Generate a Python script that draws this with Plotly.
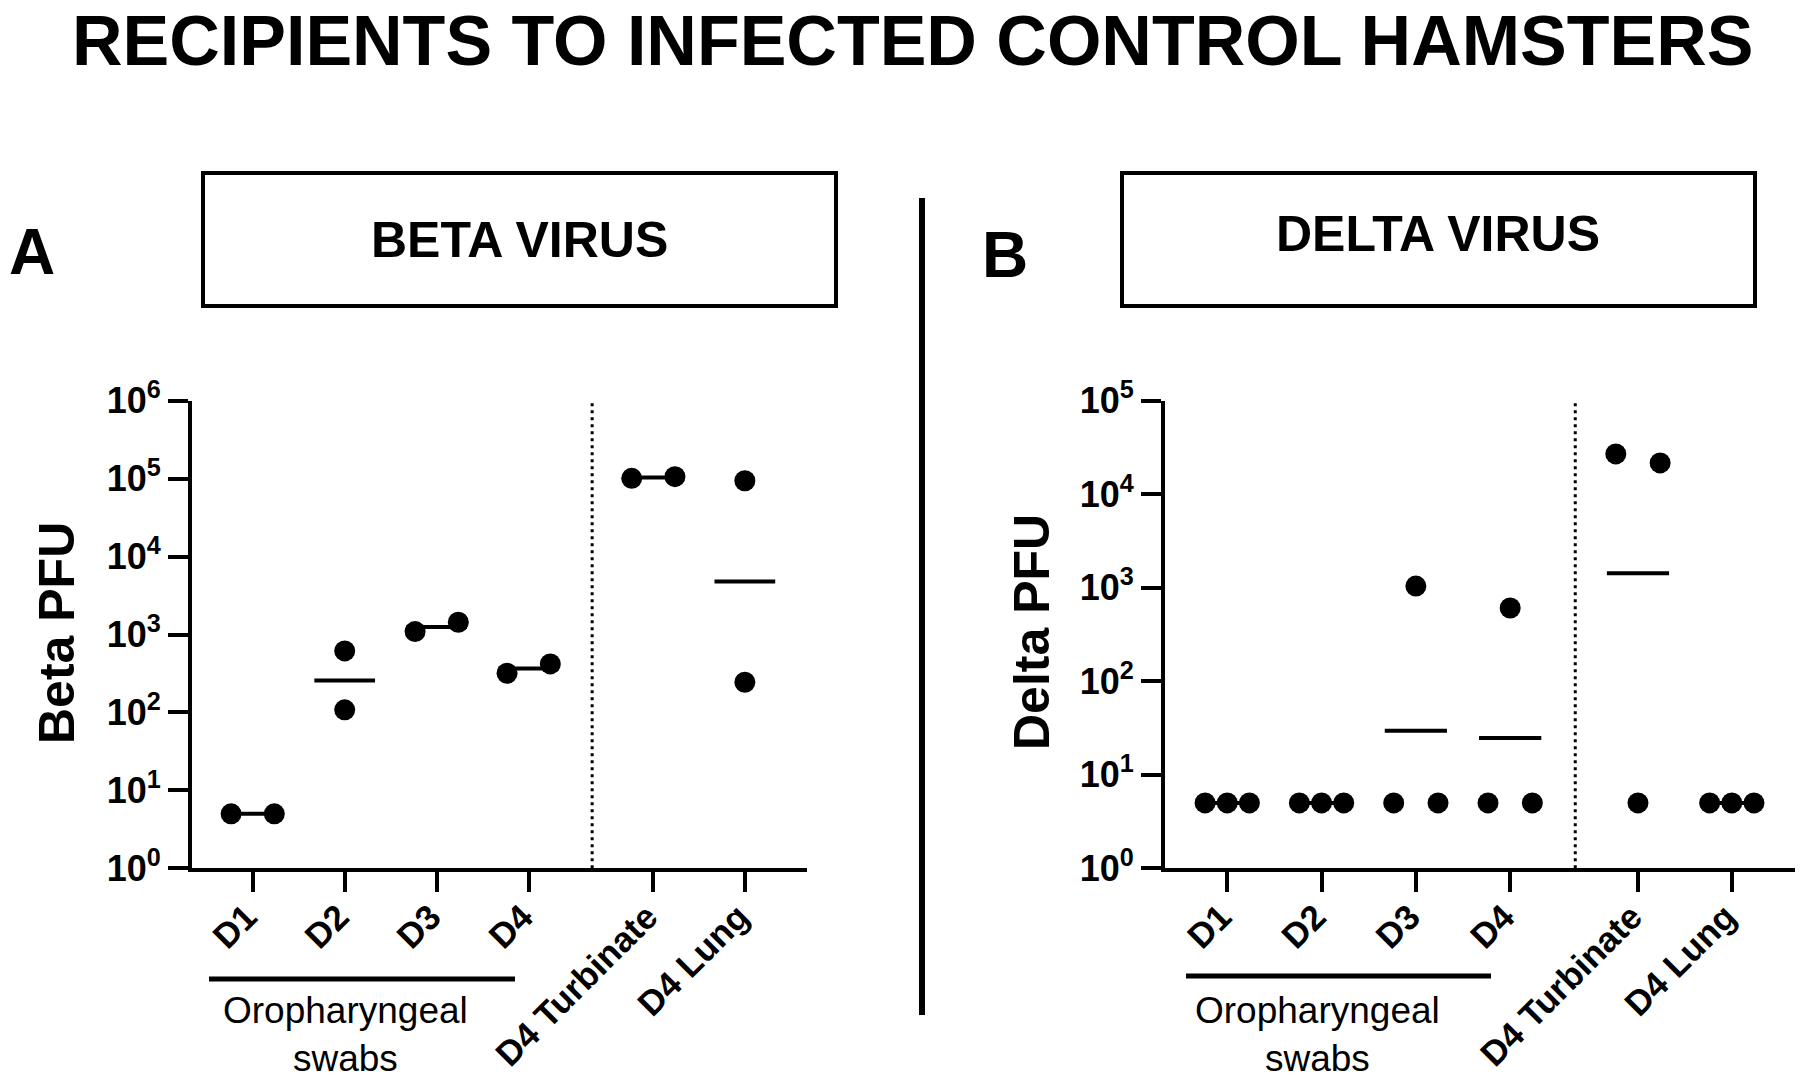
import numpy as np
import plotly.graph_objects as go

FONT = "Liberation Sans"
W, H = 1800, 1083

categories = ["D1", "D2", "D3", "D4", "D4 Turbinate", "D4 Lung"]

# PFU per animal, one list per category
beta_pfu = [
    [5, 5],
    [615, 108],
    [1089, 1435],
    [318, 419],
    [101000, 106000],
    [94000, 244],
]
delta_pfu = [
    [5, 5, 5],
    [5, 5, 5],
    [5, 1042, 5],
    [5, 607, 5],
    [27000, 5, 21600],
    [5, 5, 5],
]

beta_ticks = [1, 10, 100, 1000, 10000, 100000, 1000000]
delta_ticks = [1, 10, 100, 1000, 10000, 100000]

# layout helpers
cat_x = [1, 2, 3, 4, 5.355, 6.35]
sep_x = 4.69


def px(x):
    return x / W


def py(y):
    return 1 - y / H


def spread(vals, half=0.235, tol=0.35):
    # GraphPad-like scatter: points that sit on top of each other get spread out
    logs = np.log10(vals)
    n = len(vals)
    offs = [0.0] * n
    used = [False] * n
    for i in range(n):
        if used[i]:
            continue
        grp = [j for j in range(n) if not used[j] and abs(logs[j] - logs[i]) < tol]
        for j in grp:
            used[j] = True
        k = len(grp)
        if k > 1:
            for idx, j in enumerate(grp):
                offs[j] = -half + idx * 2 * half / (k - 1)
    return offs


fig = go.Figure()


def add_panel(data, xa, ya):
    for c, vals in zip(cat_x, data):
        gm = 10 ** np.mean(np.log10(vals))
        fig.add_trace(go.Scatter(
            x=[c - 0.33, c + 0.33], y=[gm, gm], mode="lines",
            line=dict(color="black", width=4), xaxis=xa, yaxis=ya,
            hoverinfo="skip"))
        offs = spread(vals)
        fig.add_trace(go.Scatter(
            x=[c + o for o in offs], y=vals, mode="markers",
            marker=dict(color="black", size=21), xaxis=xa, yaxis=ya))


add_panel(beta_pfu, "x", "y")
add_panel(delta_pfu, "x2", "y2")

axis_common = dict(
    showline=True, linewidth=4, linecolor="black",
    ticks="outside", ticklen=20, tickwidth=4, tickcolor="black",
    showgrid=False, zeroline=False, automargin=False,
)
xfont = dict(family=FONT, size=35, color="black", weight="bold")
yfont = dict(family=FONT, size=36, color="black", weight="bold")
xticks = dict(tickvals=cat_x, ticktext=categories, tickangle=-45, tickfont=xfont,
              ticklabelstandoff=-10, ticklabelshift=-6, range=[0.34, 7.02])

fig.update_layout(
    width=W, height=H,
    margin=dict(l=0, r=0, t=0, b=0, pad=0),
    paper_bgcolor="white", plot_bgcolor="white",
    showlegend=False,
    xaxis=dict(domain=[px(192), px(806.5)], anchor="y", **xticks, **axis_common),
    yaxis=dict(domain=[py(868.3), py(400.7)], type="log", range=[0, 6], anchor="x",
               tickvals=beta_ticks,
               ticktext=[f"10<sup>{i}</sup>" for i in range(len(beta_ticks))],
               tickfont=yfont, **axis_common),
    xaxis2=dict(domain=[px(1165), px(1795)], anchor="y2", **xticks, **axis_common),
    yaxis2=dict(domain=[py(868.3), py(400.7)], type="log", range=[0, 5], anchor="x2",
                tickvals=delta_ticks,
                ticktext=[f"10<sup>{i}</sup>" for i in range(len(delta_ticks))],
                tickfont=yfont, **axis_common),
)

# dotted separators between swabs and tissues
for xr, yr in [("x", "y domain"), ("x2", "y2 domain")]:
    fig.add_shape(type="line", xref=xr, yref=yr, x0=sep_x, x1=sep_x, y0=0, y1=1,
                  line=dict(color="black", width=3, dash="3px,4px"))

# header boxes
for x0, x1 in [(203, 836), (1122, 1755)]:
    fig.add_shape(type="rect", xref="paper", yref="paper",
                  x0=px(x0), x1=px(x1), y0=py(306), y1=py(173),
                  line=dict(color="black", width=4), fillcolor="rgba(0,0,0,0)")

# vertical divider
fig.add_shape(type="line", xref="paper", yref="paper",
              x0=px(922), x1=px(922), y0=py(198), y1=py(1015),
              line=dict(color="black", width=6))

# bars under oropharyngeal swab groups
for x0, x1, y in [(209, 515, 979), (1186, 1491, 976)]:
    fig.add_shape(type="line", xref="paper", yref="paper",
                  x0=px(x0), x1=px(x1), y0=py(y), y1=py(y),
                  line=dict(color="black", width=5))


def note(text, x, y, size, bold=True, angle=0, yanchor="middle"):
    fig.add_annotation(
        text=text, x=px(x), y=py(y), xref="paper", yref="paper",
        showarrow=False, textangle=angle, xanchor="center", yanchor=yanchor,
        font=dict(family=FONT, size=size, color="black",
                  weight="bold" if bold else "normal"))


note("RECIPIENTS TO INFECTED CONTROL HAMSTERS", 912, 0, 70, yanchor="top")
note("BETA VIRUS", 519, 240, 50)
note("DELTA VIRUS", 1438, 234, 50)
note("A", 32, 252, 64)
note("B", 1005, 255, 64)
note("Beta PFU", 57, 633, 50, angle=-90)
note("Delta PFU", 1032, 632, 50, angle=-90)
note("Oropharyngeal<br>swabs", 345, 1034, 37, bold=False)
note("Oropharyngeal<br>swabs", 1317, 1034, 37, bold=False)

fig.write_html("out.html", config={"displayModeBar": False},
               post_script="document.body.style.margin = '0px';")
